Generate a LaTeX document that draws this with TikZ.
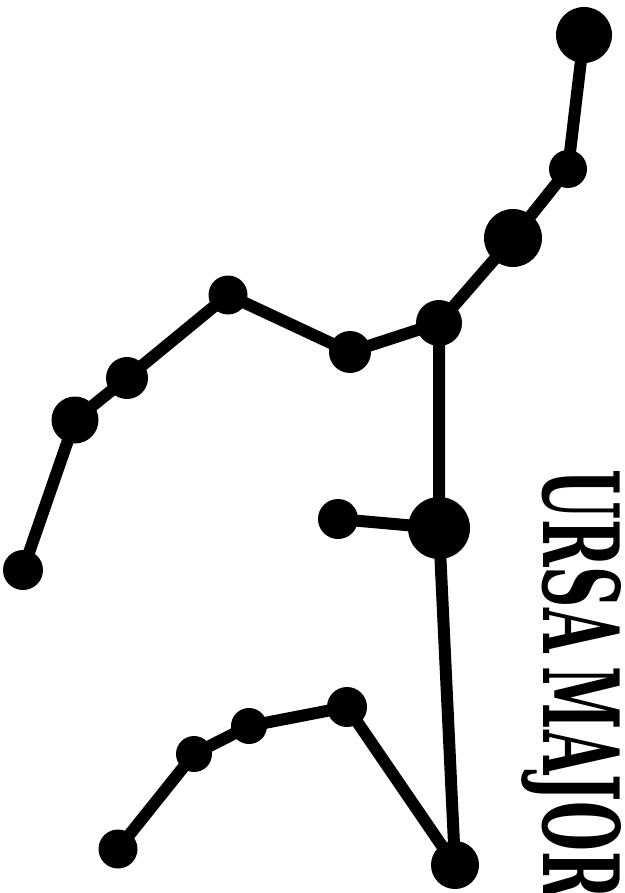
\documentclass[tikz,border=0pt]{standalone}
\usepackage{fontspec}
\newfontfamily\ursafont{DejaVu Serif}
\begin{document}
\begin{tikzpicture}[x=1pt,y=-1pt,
  starlink/.style={line width=12pt,black},
  star/.style={circle,fill=black,inner sep=0pt,minimum size=#1}]
\useasboundingbox (0,0) rectangle (624,893);
% upper stars
\node[star=56pt] (s1) at (584,35) {};
\node[star=38pt] (s2) at (568,169) {};
\node[star=58pt] (s3) at (513,238) {};
\node[star=46pt] (s4) at (439,323) {};
\node[star=42pt] (s5) at (350,352) {};
\node[star=39pt] (s6) at (228,295) {};
\node[star=42pt] (s7) at (127,378) {};
\node[star=47pt] (s8) at (75,420) {};
\node[star=40pt] (s9) at (23,570) {};
\node[star=40pt] (s10) at (338,519) {};
\node[star=62pt] (s11) at (439,528) {};
% lower stars
\node[star=48pt] (l1) at (455,865) {};
\node[star=40pt] (l2) at (347,707) {};
\node[star=36pt] (l3) at (249,726) {};
\node[star=36pt] (l4) at (194,754) {};
\node[star=39pt] (l5) at (118,849) {};
% links
\draw[starlink] (s1.center) -- (s2.center) -- (s3.center) -- (s4.center)
  -- (s5.center) -- (s6.center) -- (s7.center) -- (s8.center) -- (s9.center);
\draw[starlink] (s4.center) -- (s11.center) -- (l1.center)
  -- (l2.center) -- (l3.center) -- (l4.center) -- (l5.center);
\draw[starlink] (s11.center) -- (s10.center);
% label
\node[rotate=-90,inner sep=0pt,anchor=base west] (title) at (543,469)
  {\resizebox{430pt}{78pt}{\ursafont\bfseries URSA\hspace{-0.1em} MAJOR}};
\end{tikzpicture}
\end{document}
